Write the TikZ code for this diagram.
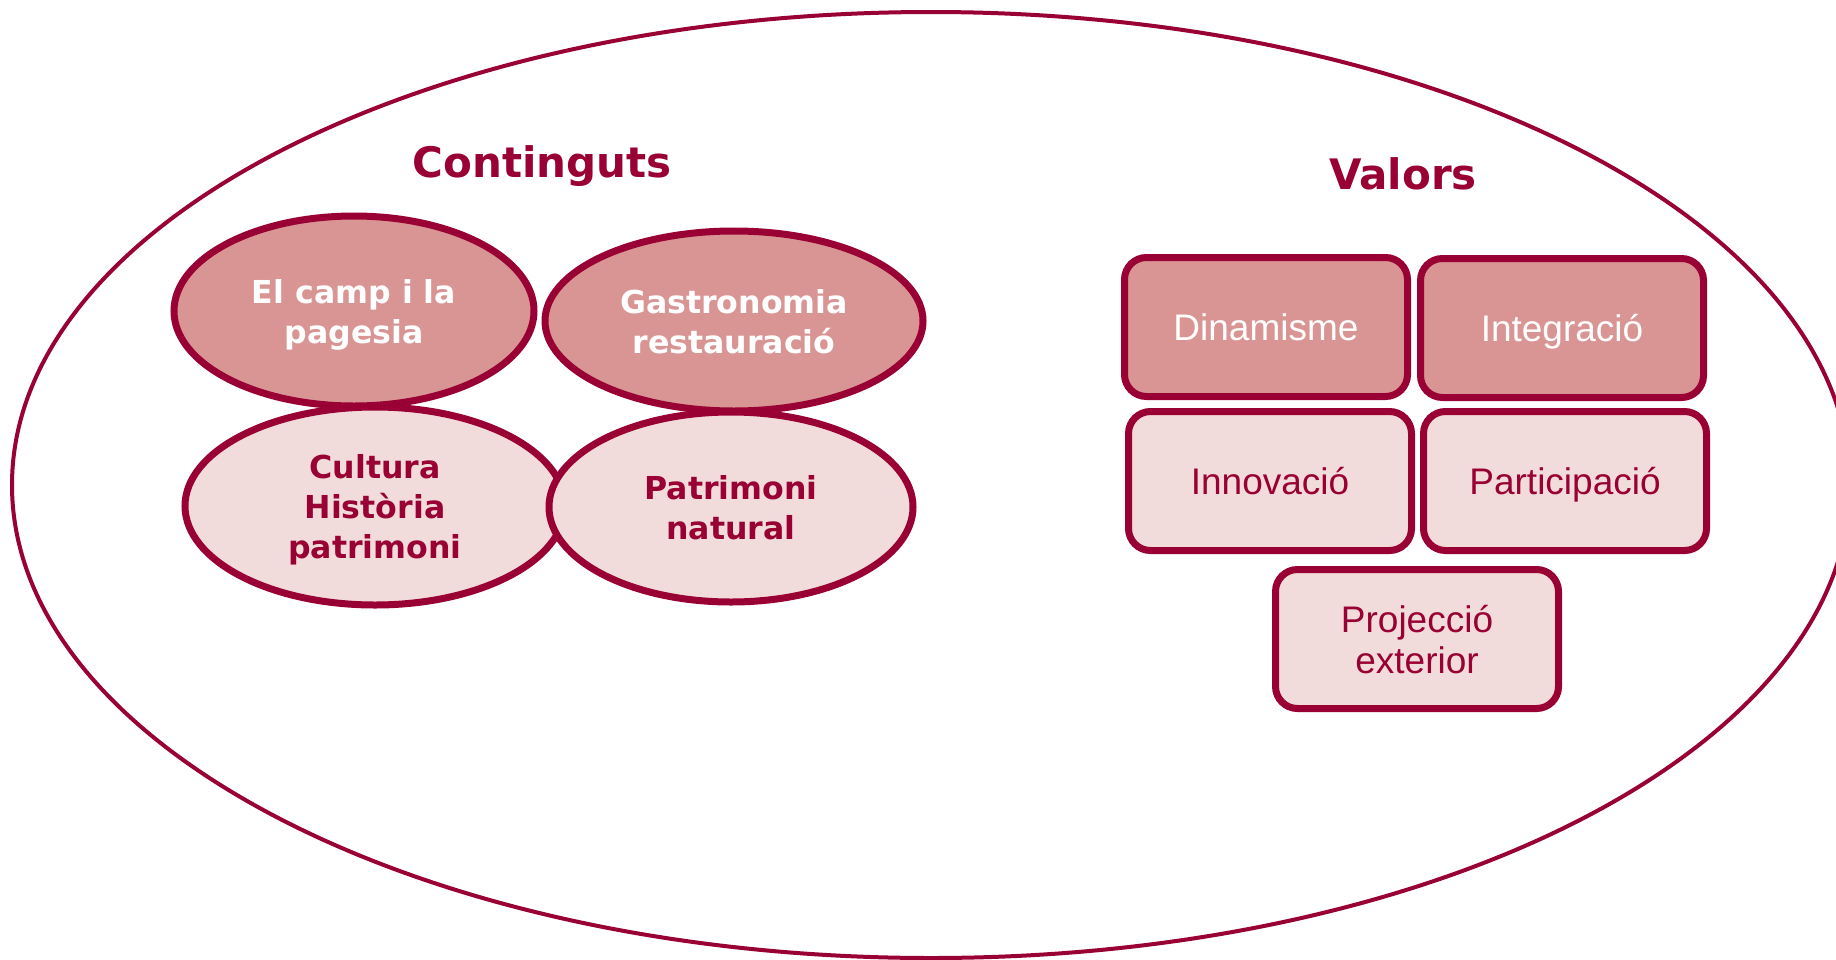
\documentclass[tikz,border=0pt]{standalone}
\usepackage{fontspec}
\newfontfamily\dvs{DejaVu Sans}
\newfontfamily\ari{Liberation Sans}
\usetikzlibrary{shapes.geometric}
\definecolor{dred}{RGB}{153,0,51}
\definecolor{pinkd}{RGB}{217,149,148}
\definecolor{pinkl}{RGB}{242,220,219}
\tikzset{
  oval/.style={ellipse, draw=dred, line width=3.5pt, inner sep=0pt, align=center, text depth=0pt,
    font=\dvs\bfseries\fontsize{15.8}{20}\selectfont},
  ovaldark/.style={oval, fill=pinkd, text=white},
  ovallight/.style={oval, fill=pinkl, text=dred},
  box/.style={rectangle, rounded corners=11pt, draw=dred, line width=3.5pt, inner sep=0pt,
    minimum width=141.5pt, minimum height=69.5pt, align=center, text depth=0pt,
    font=\ari\fontsize{18.5}{20.5}\selectfont},
  boxdark/.style={box, fill=pinkd, text=white},
  boxlight/.style={box, fill=pinkl, text=dred},
  title/.style={text=dred, font=\dvs\bfseries\fontsize{21}{25}\selectfont, inner sep=0pt, text depth=0pt}
}
\begin{document}
\begin{tikzpicture}[x=0.5pt,y=-0.5pt]
\useasboundingbox (0,0) rectangle (1836,959);
\fill[white] (0,0) rectangle (1836,959);
\draw[dred, line width=2pt] (931,485) ellipse [x radius=459.5pt, y radius=236.5pt];
\node[title] (tc) at (542,162) {Continguts};
\node[title] (tv) at (1403,174) {Valors};
\node[ovaldark, minimum width=180pt, minimum height=95pt] (e1) at (354,311) {El camp i la\\pagesia};
\node[ovaldark, minimum width=189pt, minimum height=90pt] (e2) at (734,321) {Gastronomia\\restauració};
\node[ovallight, minimum width=190pt, minimum height=99pt] (e3) at (375,506) {Cultura\\Història\\patrimoni};
\node[ovallight, minimum width=182pt, minimum height=95pt] (e4) at (731,507) {Patrimoni\\natural};
\node[boxdark] (b1) at (1266,327) {Dinamisme};
\node[boxdark] (b2) at (1562,328) {Integració};
\node[boxlight] (b3) at (1270,481) {Innovació};
\node[boxlight] (b4) at (1565,481) {Participació};
\node[boxlight] (b5) at (1417,639) {Projecció\\exterior};
\end{tikzpicture}
\end{document}
